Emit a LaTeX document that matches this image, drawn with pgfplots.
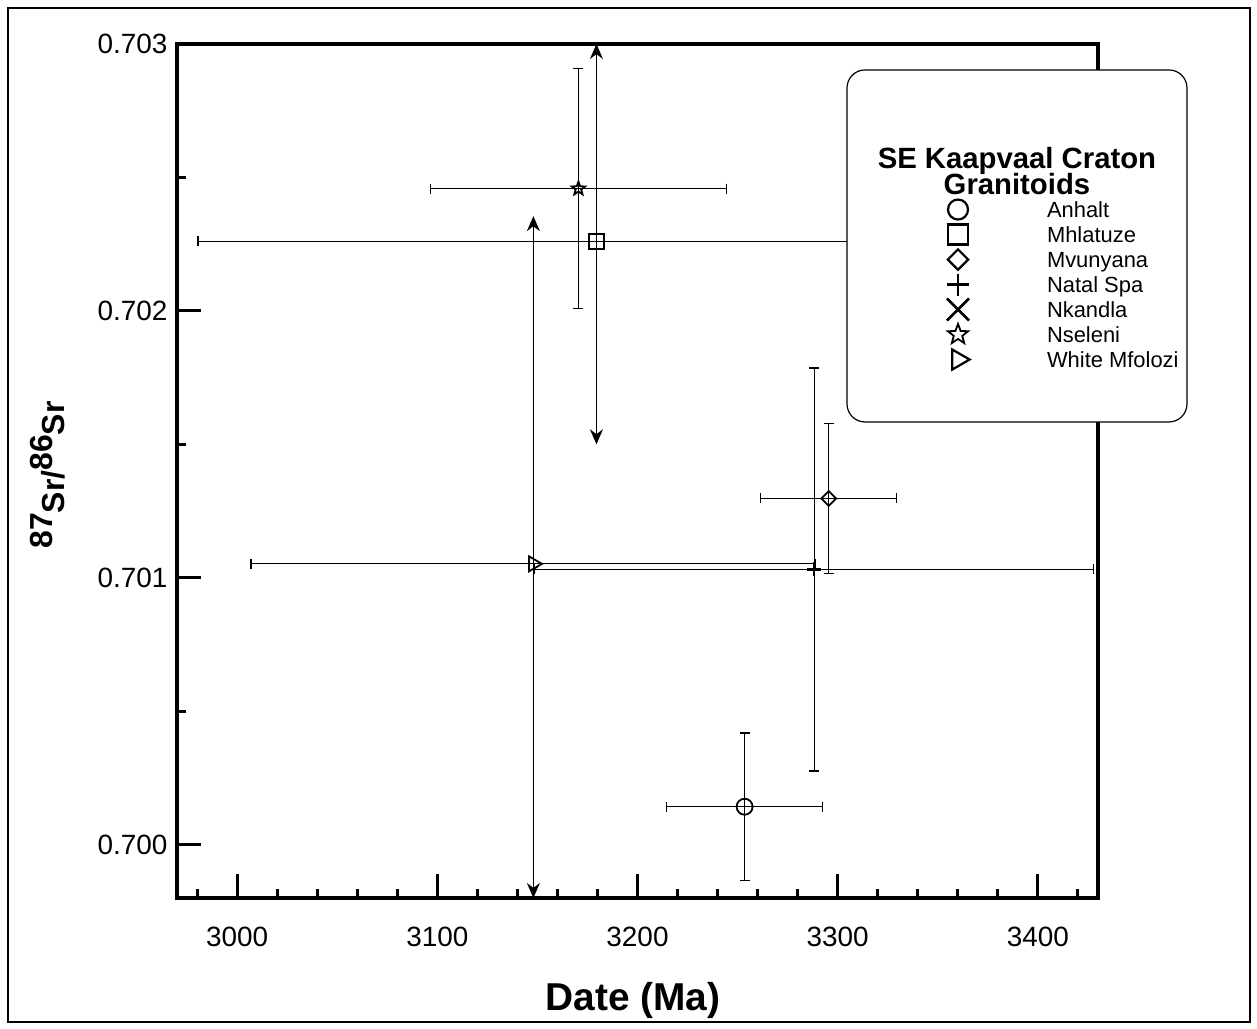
\documentclass[border=0pt]{standalone}
\usepackage{fontspec}
\setmainfont{Liberation Sans}
\usepackage{pgfplots}
\pgfplotsset{compat=1.18}
\usetikzlibrary{arrows.meta}

% open five-pointed star
\pgfdeclareplotmark{ostar}{%
  \pgfpathmoveto{\pgfpointpolar{90}{\pgfplotmarksize}}%
  \pgfpathlineto{\pgfpointpolar{126}{0.42\pgfplotmarksize}}%
  \pgfpathlineto{\pgfpointpolar{162}{\pgfplotmarksize}}%
  \pgfpathlineto{\pgfpointpolar{198}{0.42\pgfplotmarksize}}%
  \pgfpathlineto{\pgfpointpolar{234}{\pgfplotmarksize}}%
  \pgfpathlineto{\pgfpointpolar{270}{0.42\pgfplotmarksize}}%
  \pgfpathlineto{\pgfpointpolar{306}{\pgfplotmarksize}}%
  \pgfpathlineto{\pgfpointpolar{342}{0.42\pgfplotmarksize}}%
  \pgfpathlineto{\pgfpointpolar{18}{\pgfplotmarksize}}%
  \pgfpathlineto{\pgfpointpolar{54}{0.42\pgfplotmarksize}}%
  \pgfpathclose
  \pgfusepathqstroke}

\pgfplotsset{
  legend image code/.code={%
    \path[draw=none,fill=none] (-10bp,-2.4bp) rectangle (10bp,10.1bp);
    \draw[#1] plot coordinates {(0bp,3.85bp)};},
}

\begin{document}
\begin{tikzpicture}
\path[use as bounding box] (-88.5bp,-65.5bp) rectangle (540bp,449bp);
\draw[line width=0.8bp] (-84.5bp,-62bp) rectangle (536.5bp,445bp);
\begin{axis}[
  at={(0,0)}, anchor=south west,
  scale only axis, width=460.5bp, height=427bp,
  xmin=2970, xmax=3430, ymin=0.6998, ymax=0.703,
  clip=false,
  axis line style={line width=1.8bp},
  xtick={3000,3100,...,3400},
  minor xtick={2980,3000,...,3420},
  ytick={0.700,0.701,0.702,0.703},
  minor ytick={0.7005,0.7015,0.7025},
  xtick pos=bottom, ytick pos=left,
  tick align=inside,
  major tick length=12bp, minor tick length=4.5bp,
  tick style={line width=1.5bp, black},
  scaled x ticks=false, scaled y ticks=false,
  ticklabel style={font=\fontsize{14}{16}\selectfont},
  /pgf/number format/assume math mode=true,
  xticklabel style={yshift=-11bp, /pgf/number format/1000 sep={}},
  yticklabel style={xshift=-1.3bp, /pgf/number format/fixed,
    /pgf/number format/fixed zerofill, /pgf/number format/precision=3},
  xlabel={Date (Ma)},
  xlabel style={font=\bfseries\fontsize{19.5}{22}\selectfont,
    at={(axis description cs:0.4951,-0.1194)}, anchor=center},
  ylabel={87\raisebox{-6bp}{Sr/}86\raisebox{-6bp}{Sr}},
  ylabel style={font=\bfseries\fontsize{16}{18}\selectfont,
    at={(axis description cs:-0.1401,0.4953)}, anchor=center},
  error bars/error mark options={rotate=90, mark size=2.5bp, line width=0.6bp},
  legend style={at={(0.8263,0.8208)}, anchor=north west,
    draw=none, fill=none, inner sep=0pt, outer sep=0pt, row sep=0pt,
    font=\fontsize{11}{12}\selectfont,
    nodes={inner sep=0pt, anchor=base west, text depth=0pt},
    /tikz/every odd column/.style={column sep=34.5bp}},
]

% arrows: limits reach beyond the plotted range
\addplot[forget plot, line width=0.7bp,
  arrows={Stealth[length=7.5bp,width=6.5bp]-Stealth[length=7.5bp,width=6.5bp]}]
  coordinates {(3179.5,0.7015) (3179.5,0.703)};
\addplot[forget plot, line width=0.7bp,
  arrows={Stealth[length=7.5bp,width=6.5bp]-Stealth[length=7.5bp,width=6.5bp]}]
  coordinates {(3148,0.6998) (3148,0.702355)};

% Anhalt
\addplot[forget plot, only marks, mark=o, mark size=4bp, line width=0.6bp,
  mark options={line width=0.9bp},
  error bars/.cd, x dir=both, x explicit, y dir=both, y explicit]
  coordinates {(3253.5,0.700142) +- (39,0.000276)};
% Mhlatuze
\addplot[forget plot, only marks, mark=square, mark size=3.75bp, line width=0.6bp,
  mark options={line width=0.9bp},
  error bars/.cd, x dir=both, x explicit, y dir=none]
  coordinates {(3179.5,0.70226) +- (199,0)};
% Mvunyana
\addplot[forget plot, only marks, mark=square, mark size=2.6bp, line width=0.6bp,
  mark options={rotate=45, line width=0.9bp},
  error bars/.cd, x dir=both, x explicit, y dir=both, y explicit]
  coordinates {(3295.5,0.701297) +- (34,0.00028)};
% Natal Spa
\addplot[forget plot, only marks, mark=+, mark size=3.5bp, line width=0.6bp,
  mark options={line width=1.4bp},
  error bars/.cd, x dir=both, x explicit, y dir=both, y explicit]
  coordinates {(3288.2,0.701031) +- (139.5,0.000755)};
% Nseleni
\addplot[forget plot, only marks, mark=ostar, mark size=3.5bp, line width=0.6bp,
  mark options={line width=0.9bp},
  error bars/.cd, x dir=both, x explicit, y dir=both, y explicit]
  coordinates {(3170.5,0.702458) +- (74,0.00045)};
% White Mfolozi
\addplot[forget plot, only marks, mark=triangle, mark size=4.3bp, line width=0.6bp,
  mark options={rotate=-90, line width=0.9bp},
  error bars/.cd, x dir=both, x explicit, y dir=none]
  coordinates {(3148,0.701052) +- (141,0)};

% legend frame and title
\draw[fill=white, rounded corners=9bp, line width=0.6bp]
  (axis description cs:0.7275,0.5574) rectangle (axis description cs:1.0966,0.9696);
\node[anchor=base, font=\bfseries\fontsize{14.7}{17}\selectfont]
  at (axis description cs:0.912,0.8548) {SE Kaapvaal Craton};
\node[anchor=base, font=\bfseries\fontsize{14.7}{17}\selectfont]
  at (axis description cs:0.912,0.8232) {Granitoids};

\addlegendimage{mark=o, mark size=5bp, line width=1.1bp}
\addlegendentry{Anhalt}
\addlegendimage{mark=square, mark size=5bp, line width=1.1bp}
\addlegendentry{Mhlatuze}
\addlegendimage{mark=square, mark size=3.6bp, mark options={rotate=45}, line width=1.1bp}
\addlegendentry{Mvunyana}
\addlegendimage{mark=+, mark size=5.5bp, line width=1.1bp}
\addlegendentry{Natal Spa}
\addlegendimage{mark=x, mark size=7.8bp, line width=1.3bp}
\addlegendentry{Nkandla}
\addlegendimage{mark=ostar, mark size=5.3bp, line width=0.9bp}
\addlegendentry{Nseleni}
\addlegendimage{mark=triangle, mark size=5.8bp, mark options={rotate=-90}, line width=1.1bp}
\addlegendentry{White Mfolozi}
\end{axis}
\end{tikzpicture}
\end{document}
